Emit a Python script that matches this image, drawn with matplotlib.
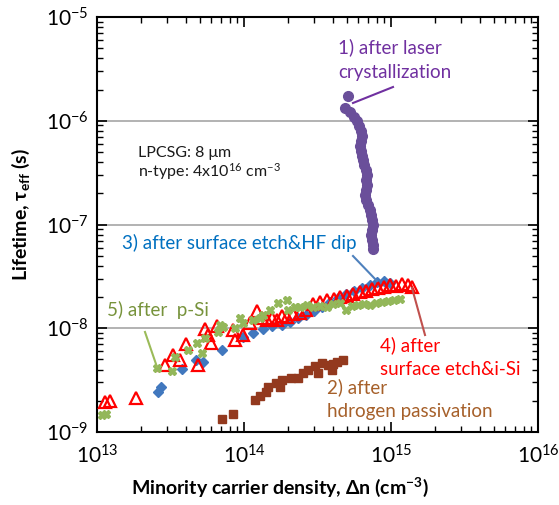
import math
import matplotlib
matplotlib.use('Agg')
import matplotlib.pyplot as plt
from matplotlib.ticker import LogLocator, FuncFormatter, NullFormatter

plt.rcParams['font.family'] = ['Lato', 'DejaVu Sans']
plt.rcParams['mathtext.default'] = 'regular'

# 1) after laser crystallization
laser_dn = [5.10e14, 4.87e14, 5.26e14, 5.60e14, 5.87e14, 6.06e14, 6.25e14, 6.35e14, 6.25e14, 6.15e14,
            6.25e14, 6.35e14, 6.45e14, 6.55e14, 6.76e14, 6.87e14, 6.76e14, 6.87e14, 6.76e14, 6.65e14,
            6.76e14, 6.98e14, 7.19e14, 7.31e14, 7.43e14, 7.55e14, 7.43e14, 7.31e14, 7.43e14, 7.55e14, 7.55e14]
laser_tau = [1.73e-6, 1.33e-6, 1.21e-6, 1.09e-6, 9.95e-7, 8.9e-7, 7.96e-7, 7.13e-7, 6.38e-7, 5.71e-7,
             5.11e-7, 4.57e-7, 4.19e-7, 3.75e-7, 3.35e-7, 3.0e-7, 2.69e-7, 2.40e-7, 2.15e-7, 1.92e-7,
             1.72e-7, 1.54e-7, 1.38e-7, 1.24e-7, 1.11e-7, 9.9e-8, 8.85e-8, 7.9e-8, 7.1e-8, 6.35e-8, 5.8e-8]

# 2) after hydrogen passivation
hyd_dn = [7.08e13, 8.42e13, 1.19e14, 1.28e14, 1.41e14, 1.46e14, 1.65e14, 1.81e14, 1.76e14, 2.09e14,
          2.33e14, 2.52e14, 2.72e14, 3.04e14, 3.19e14, 3.39e14, 3.73e14, 3.97e14, 4.03e14, 4.29e14, 4.71e14]
hyd_tau = [1.33e-9, 1.49e-9, 2.03e-9, 2.22e-9, 2.43e-9, 2.72e-9, 2.97e-9, 3.17e-9, 2.72e-9, 3.31e-9,
           3.31e-9, 3.71e-9, 3.96e-9, 4.33e-9, 3.71e-9, 4.62e-9, 4.43e-9, 3.96e-9, 4.52e-9, 4.73e-9, 4.94e-9]

# 3) after surface etch & HF dip
hf_dn = [2.60e13, 2.73e13, 3.79e13, 4.71e13, 5.26e13, 7.08e13, 9.84e13, 1.15e14, 1.35e14, 1.55e14,
         1.81e14, 2.06e14, 2.33e14, 2.64e14, 2.99e14, 3.39e14, 3.85e14, 4.36e14, 4.94e14, 5.60e14,
         6.35e14, 7.19e14, 8.03e14, 8.96e14, 9.84e14]
hf_tau = [2.43e-9, 2.72e-9, 4.05e-9, 4.94e-9, 4.73e-9, 6.17e-9, 8.24e-9, 9.0e-9, 9.84e-9, 1.05e-8,
          1.07e-8, 1.15e-8, 1.26e-8, 1.34e-8, 1.47e-8, 1.60e-8, 1.79e-8, 1.96e-8, 2.14e-8, 2.29e-8,
          2.44e-8, 2.61e-8, 2.79e-8, 2.85e-8, 2.73e-8]

# 4) after surface etch & i-Si
isi_dn = [1.13e13, 1.23e13, 1.84e13, 2.90e13, 3.29e13, 3.67e13, 4.03e13, 4.86e13, 5.43e13, 5.69e13,
          5.97e13, 6.55e13, 8.42e13, 8.69e13, 9.84e13, 1.10e14, 1.23e14, 1.33e14, 1.43e14, 1.55e14,
          1.68e14, 1.81e14, 1.96e14, 2.15e14, 2.40e14, 2.64e14, 2.95e14, 3.29e14, 3.67e14, 4.10e14,
          4.50e14, 5.02e14, 5.51e14, 6.15e14, 6.76e14, 7.43e14, 8.16e14, 8.96e14, 9.84e14, 1.08e15,
          1.19e15, 1.31e15, 1.39e15]
isi_tau = [1.95e-9, 1.99e-9, 2.13e-9, 4.43e-9, 5.52e-9, 4.94e-9, 7.05e-9, 4.43e-9, 9.84e-9, 8.61e-9,
           7.21e-9, 1.05e-8, 9.62e-9, 7.71e-9, 8.61e-9, 1.12e-8, 1.47e-8, 1.26e-8, 1.20e-8, 1.26e-8,
           1.20e-8, 1.31e-8, 1.28e-8, 1.37e-8, 1.40e-8, 1.50e-8, 1.71e-8, 1.79e-8, 1.87e-8, 1.91e-8,
           2.00e-8, 2.05e-8, 2.14e-8, 2.24e-8, 2.29e-8, 2.39e-8, 2.44e-8, 2.50e-8, 2.61e-8, 2.55e-8,
           2.67e-8, 2.61e-8, 2.50e-8]

# 5) after p-Si
psi_dn = [1.08e13, 1.15e13, 2.56e13, 3.24e13, 3.39e13, 4.16e13, 4.79e13, 5.18e13, 5.43e13, 6.65e13,
          6.87e13, 7.19e13, 8.69e13, 9.40e13, 9.84e13, 1.15e14, 1.28e14, 1.35e14, 1.50e14, 1.70e14,
          1.96e14, 1.99e14, 2.22e14, 2.40e14, 2.68e14, 2.95e14, 3.29e14, 3.67e14, 4.03e14, 4.50e14,
          4.94e14, 5.43e14, 5.97e14, 6.55e14, 7.19e14, 7.91e14, 8.69e14, 9.55e14, 1.05e15, 1.15e15]
psi_tau = [1.46e-9, 1.49e-9, 4.14e-9, 3.87e-9, 5.28e-9, 6.17e-9, 7.21e-9, 5.77e-9, 8.05e-9, 9.2e-9,
           1.07e-8, 1.03e-8, 1.01e-8, 1.26e-8, 1.12e-8, 1.20e-8, 1.26e-8, 1.34e-8, 1.50e-8, 1.75e-8,
           1.87e-8, 1.50e-8, 1.60e-8, 1.60e-8, 1.67e-8, 1.60e-8, 1.64e-8, 1.60e-8, 1.71e-8, 1.75e-8,
           1.50e-8, 1.64e-8, 1.67e-8, 1.71e-8, 1.67e-8, 1.75e-8, 1.79e-8, 1.83e-8, 1.87e-8, 1.91e-8]

fig = plt.figure(figsize=(5.59, 5.05), dpi=100)
ax = fig.add_axes([97/559, 1 - 432/505, 441/559, 415/505])

ax.plot(laser_dn, laser_tau, 'o', color='#6a4f9a', ms=7, mec='#6a4f9a', zorder=5)
ax.plot(hyd_dn, hyd_tau, 's', color='#93391e', ms=6, mec='#93391e', zorder=5)
ax.plot(isi_dn, isi_tau, '^', mfc='none', mec='#ff0000', mew=1.6, ms=8, zorder=4)
ax.plot(hf_dn, hf_tau, 'D', color='#4178be', ms=5.5, mec='#4178be', zorder=3)
ax.plot(psi_dn, psi_tau, 'X', color='#93b75a', ms=5.5, mec='#93b75a', zorder=5)

ax.set_xscale('log')
ax.set_yscale('log')
ax.set_xlim(1e13, 1e16)
ax.set_ylim(1e-9, 1e-5)

ax.yaxis.grid(True, which='major', color='#a6a6a6', lw=1.2)
ax.set_axisbelow(True)

for a in (ax.xaxis, ax.yaxis):
    a.set_major_locator(LogLocator(base=10, numticks=10))
    a.set_minor_locator(LogLocator(base=10, subs=range(2, 10), numticks=10))
    a.set_minor_formatter(NullFormatter())
fmt = FuncFormatter(lambda v, p: r'$10^{%d}$' % round(math.log10(v)))
ax.xaxis.set_major_formatter(fmt)
ax.yaxis.set_major_formatter(fmt)
ax.tick_params(which='both', direction='in', top=True, right=True, color='black')
ax.tick_params(which='major', length=7, width=1.2, labelsize=15)
ax.tick_params(which='minor', length=4, width=1.0)
ax.tick_params(axis='x', which='major', pad=9)
ax.tick_params(axis='y', which='major', pad=6)
for s in ax.spines.values():
    s.set_linewidth(1.5)
    s.set_color('black')

ax.set_xlabel(r'Minority carrier density, Δn (cm$^{-3}$)', fontsize=14, fontweight='bold')
ax.set_ylabel(r'Lifetime, τ$_{eff}$ (s)', fontsize=14, fontweight='bold')
ax.xaxis.set_label_coords(0.415, -0.105)
ax.yaxis.set_label_coords(-0.147, 0.525)

fs = 13.5
def note(x, y, s, c, size=fs):
    ax.text(x, y, s, color=c, fontsize=size, ha='left', va='center', transform=ax.transAxes)

def leader(p0, p1, c):
    ax.plot([p0[0], p1[0]], [p0[1], p1[1]], color=c, lw=1.5, transform=ax.transAxes, zorder=6)

note(0.5465, 0.9277, '1) after laser', '#7030a0')
note(0.5465, 0.8651, 'crystallization', '#7030a0')
leader((0.6712, 0.8313), (0.5805, 0.7928), '#7030a0')

note(0.0567, 0.4554, '3) after surface etch&HF dip', '#0070c0')
leader((0.5805, 0.4241), (0.6349, 0.3639), '#4f81bd')

note(0.0227, 0.2940, '5) after  p-Si', '#77933c')
leader((0.1088, 0.2410), (0.1361, 0.1566), '#9bbb59')

note(0.6417, 0.2096, '4) after', '#ff0000')
note(0.6417, 0.1494, 'surface etch&i-Si', '#ff0000')
leader((0.7143, 0.3470), (0.7438, 0.2337), '#c0504d')

note(0.5215, 0.1084, '2) after', '#a6602a')
note(0.5215, 0.0482, 'hdrogen passivation', '#a6602a')

note(0.0930, 0.6723, 'LPCSG: 8 μm', '#1a1a1a', size=11.5)
note(0.0930, 0.6265, r'n-type: 4x10$^{16}$ cm$^{-3}$', '#1a1a1a', size=11.5)

fig.savefig('out.png', dpi=100)
